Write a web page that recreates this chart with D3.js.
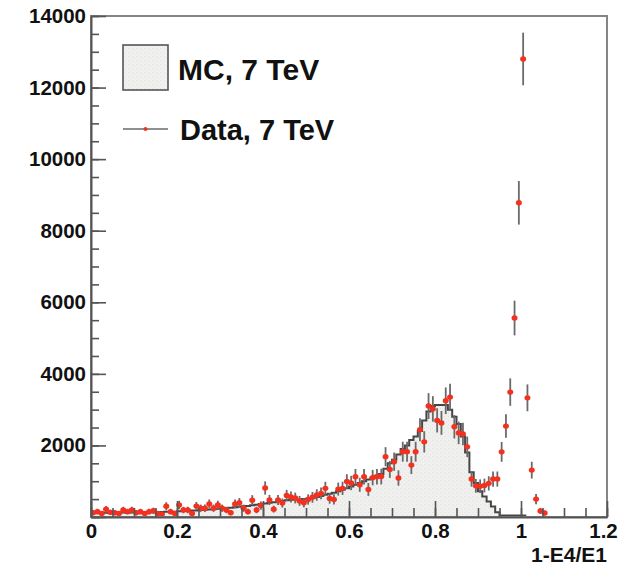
<!DOCTYPE html>
<html>
<head>
<meta charset="utf-8">
<script src="https://cdn.jsdelivr.net/npm/d3@7/dist/d3.min.js"></script>
<style>
  html, body { margin: 0; padding: 0; background: #fff; }
  svg text { font-family: "Liberation Sans", Arial, Helvetica, sans-serif; font-weight: bold; fill: #111; }
</style>
</head>
<body>
<svg id="chart" width="620" height="568"></svg>
<script>
// Histogram binning: bins of width 0.01 starting at 0
const binWidth = 0.01;

// Measured data counts per bin (bin 0 = [0, 0.01))
const dataCounts = [
  120, 150, 100, 215, 130, 120, 100, 195, 150, 195,
  120, 150, 100, 150, 175, 100, 75, 300, 150, 100,
  335, 195, 195, 100, 305, 245, 245, 365, 245, 335,
  245, 195, 120, 365, 400, 245, 150, 470, 195, 320,
  810, 475, 220, 475, 390, 600, 560, 530, 450, 400,
  490, 550, 615, 660, 800, 520, 490, 780, 800, 990,
  950, 1125, 900, 1125, 770, 1100, 1125, 1130, 1685, 1330,
  1545, 1090, 1825, 1825, 1450, 1825, 2440, 2100, 3100, 3020,
  2700, 2630, 3250, 3350, 2520, 2350, 2320, 1960, 1060, 870,
  860, 880, 940, 1060, 1060, 1820, 2540, 3490, 5560, 8780,
  12800, 3330, 1310, 500, 170, 110
];

// Uncertainty on each data bin
const dataErrors = [
  71, 80, 65, 95, 74, 71, 65, 91, 80, 91,
  71, 80, 65, 80, 86, 65, 56, 113, 80, 65,
  119, 91, 91, 65, 114, 102, 102, 124, 102, 119,
  102, 91, 71, 124, 130, 102, 80, 141, 91, 116,
  185, 142, 96, 142, 128, 159, 154, 150, 138, 130,
  144, 152, 161, 167, 184, 148, 144, 182, 184, 205,
  200, 218, 195, 218, 180, 216, 218, 219, 267, 237,
  255, 215, 278, 278, 248, 278, 321, 298, 362, 357,
  338, 333, 371, 376, 326, 315, 313, 288, 212, 192,
  191, 193, 199, 212, 212, 277, 328, 384, 485, 609,
  735, 375, 235, 145, 85, 68
];

// Simulated (MC) counts per bin, same binning
const mcCounts = [
  110, 115, 110, 120, 115, 120, 120, 125, 120, 125,
  125, 130, 130, 135, 130, 140, 140, 145, 150, 150,
  160, 165, 170, 180, 185, 195, 200, 210, 220, 230,
  240, 250, 260, 270, 285, 300, 310, 330, 345, 360,
  380, 400, 410, 430, 450, 470, 480, 490, 480, 500,
  510, 530, 560, 590, 620, 650, 680, 720, 760, 800,
  850, 900, 950, 1000, 1050, 1100, 1150, 1200, 1350, 1500,
  1600, 1750, 1900, 2000, 2150, 2250, 2400, 2700, 2950, 3100,
  3130, 3130, 3130, 3000, 2800, 2600, 2250, 1800, 1250, 950,
  720, 570, 430, 290, 130, 40, 40, 40, 40, 40,
  40, 0, 0, 0, 0, 0, 0, 0, 0, 0,
  0, 0, 0, 0, 0, 0, 0, 0, 0, 0
];

const xMajorTicks = [0, 0.2, 0.4, 0.6, 0.8, 1.0, 1.2];
const yMajorTicks = [0, 2000, 4000, 6000, 8000, 10000, 12000, 14000];
const xTitle = "1-E4/E1";
const legendLabels = ["MC, 7 TeV", "Data, 7 TeV"];

const svg = d3.select("#chart");
const W = 620, H = 568;
const frame = { left: 91, right: 607, top: 16, bottom: 517 };

const x = d3.scaleLinear().domain([0, 1.2]).range([frame.left, frame.right]);
const y = d3.scaleLinear().domain([0, 14000]).range([frame.bottom, frame.top]);

svg.append("rect").attr("width", W).attr("height", H).attr("fill", "#fff");

// light speckled fill for the MC histogram
const defs = svg.append("defs");
const pat = defs.append("pattern").attr("id", "mcfill")
  .attr("patternUnits", "userSpaceOnUse").attr("width", 4).attr("height", 4);
pat.append("rect").attr("width", 4).attr("height", 4).attr("fill", "#f0f0ee");
pat.append("rect").attr("x", 0).attr("y", 0).attr("width", 1).attr("height", 1).attr("fill", "#e2e2e0");
pat.append("rect").attr("x", 2).attr("y", 2).attr("width", 1).attr("height", 1).attr("fill", "#e6e6e4");

const clip = defs.append("clipPath").attr("id", "plotclip");
clip.append("rect").attr("x", frame.left).attr("y", frame.top)
  .attr("width", frame.right - frame.left).attr("height", frame.bottom - frame.top);

// MC histogram as a step area
const mcBins = mcCounts.map((v, i) => ({ lo: i * binWidth, hi: (i + 1) * binWidth, v }));
const stepPts = [];
mcBins.forEach(b => { stepPts.push([b.lo, b.v]); stepPts.push([b.hi, b.v]); });

const plot = svg.append("g").attr("clip-path", "url(#plotclip)");

plot.append("path")
  .datum(stepPts)
  .attr("fill", "url(#mcfill)")
  .attr("d", d3.area().x(d => x(d[0])).y0(y(0)).y1(d => y(d[1])));

plot.append("path")
  .datum([[0, 0], ...stepPts])
  .attr("fill", "none")
  .attr("stroke", "#464646")
  .attr("stroke-width", 2)
  .attr("stroke-linejoin", "miter")
  .attr("d", d3.line().x(d => x(d[0])).y(d => y(d[1])));

// data points with error bars
const dataPts = dataCounts.map((v, i) => ({ c: (i + 0.5) * binWidth, v, e: dataErrors[i] }));

plot.append("g").selectAll("line").data(dataPts).join("line")
  .attr("x1", d => x(d.c)).attr("x2", d => x(d.c))
  .attr("y1", d => y(d.v - d.e)).attr("y2", d => y(d.v + d.e))
  .attr("stroke", "#6a6a6a").attr("stroke-width", 1.8);

plot.append("g").selectAll("ellipse").data(dataPts).join("ellipse")
  .attr("cx", d => x(d.c)).attr("cy", d => y(d.v))
  .attr("rx", 3).attr("ry", 2.7)
  .attr("fill", "#f4301f");

// frame
svg.append("rect")
  .attr("x", frame.left).attr("y", frame.top)
  .attr("width", frame.right - frame.left).attr("height", frame.bottom - frame.top)
  .attr("fill", "none").attr("stroke", "#858585").attr("stroke-width", 2);

// axes: ticks drawn inward, minor ticks every 0.05 / 500
const xMinor = d3.range(0, 1.2001, 0.05).map(v => +v.toFixed(2));
const yMinor = d3.range(0, 14001, 500);

const axisStyle = g => {
  g.select(".domain").attr("stroke", "#555").attr("stroke-width", 2);
  g.selectAll(".tick line").attr("stroke", "#555").attr("stroke-width", 1.6);
  g.selectAll("text").attr("font-size", 20.5).attr("fill", "#111")
    .attr("font-family", '"Liberation Sans", Arial, sans-serif').attr("font-weight", "bold");
};

svg.append("g").attr("transform", `translate(0,${frame.bottom})`)
  .call(d3.axisBottom(x).tickValues(xMinor).tickSize(-9).tickFormat(""))
  .call(g => g.select(".domain").remove())
  .call(g => g.selectAll(".tick line").attr("stroke", "#555").attr("stroke-width", 1.6));

svg.append("g").attr("transform", `translate(0,${frame.bottom})`)
  .call(d3.axisBottom(x).tickValues(xMajorTicks).tickSize(-16).tickPadding(6)
    .tickSizeOuter(0).tickFormat(d3.format("~g")))
  .call(axisStyle)
  // keep the last label inside the canvas edge
  .call(g => g.selectAll(".tick text").filter(d => d === 1.2).attr("dx", -4));

svg.append("g").attr("transform", `translate(${frame.left},0)`)
  .call(d3.axisLeft(y).tickValues(yMinor).tickSize(-8).tickFormat(""))
  .call(g => g.select(".domain").remove())
  .call(g => g.selectAll(".tick line").attr("stroke", "#555").attr("stroke-width", 1.6));

svg.append("g").attr("transform", `translate(${frame.left},0)`)
  .call(d3.axisLeft(y).tickValues(yMajorTicks).tickSize(-15).tickPadding(5)
    .tickSizeOuter(0).tickFormat(d => d === 0 ? "" : d3.format("d")(d)))
  .call(axisStyle);

// axis title
svg.append("text")
  .attr("x", frame.right).attr("y", 562)
  .attr("text-anchor", "end").attr("font-size", 21)
  .text(xTitle);

// legend
const lg = svg.append("g");
lg.append("rect").attr("x", 123).attr("y", 45).attr("width", 45).attr("height", 45)
  .attr("fill", "url(#mcfill)").attr("stroke", "#555").attr("stroke-width", 1.6);
lg.append("text").attr("x", 178).attr("y", 80).attr("font-size", 30).text(legendLabels[0]);

lg.append("line").attr("x1", 123).attr("x2", 168).attr("y1", 129).attr("y2", 129)
  .attr("stroke", "#6a6a6a").attr("stroke-width", 1.6);
lg.append("circle").attr("cx", 145.5).attr("cy", 129).attr("r", 2).attr("fill", "#f4301f");
lg.append("text").attr("x", 180).attr("y", 140).attr("font-size", 29).text(legendLabels[1]);
</script>
</body>
</html>
